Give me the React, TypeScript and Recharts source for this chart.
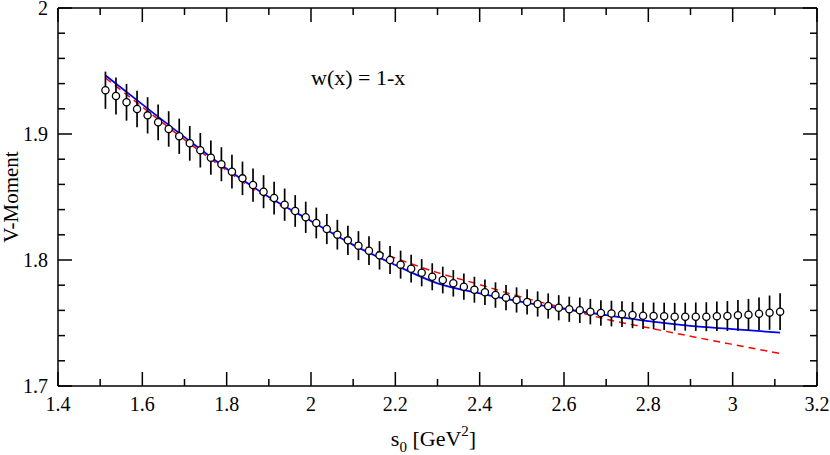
import React from 'react';
import { ComposedChart, Line, Scatter, XAxis, YAxis, ErrorBar } from 'recharts';

// s0 values of the data points [GeV^2]
const sValues = [
  1.5125, 1.5375, 1.5625, 1.5875, 1.6125, 1.6375, 1.6625, 1.6875, 1.7125, 1.7375,
  1.7625, 1.7875, 1.8125, 1.8375, 1.8625, 1.8875, 1.9125, 1.9375, 1.9625, 1.9875,
  2.0125, 2.0375, 2.0625, 2.0875, 2.1125, 2.1375, 2.1625, 2.1875, 2.2125, 2.2375,
  2.2625, 2.2875, 2.3125, 2.3375, 2.3625, 2.3875, 2.4125, 2.4375, 2.4625, 2.4875,
  2.5125, 2.5375, 2.5625, 2.5875, 2.6125, 2.6375, 2.6625, 2.6875, 2.7125, 2.7375,
  2.7625, 2.7875, 2.8125, 2.8375, 2.8625, 2.8875, 2.9125, 2.9375, 2.9625, 2.9875,
  3.0125, 3.0375, 3.0625, 3.0875, 3.1125,
];

// V-moment data values
const moment = [
  1.9347, 1.9302, 1.9252, 1.9198, 1.9148, 1.9093, 1.9040, 1.8982, 1.8926, 1.8871,
  1.8812, 1.8760, 1.8701, 1.8648, 1.8595, 1.8542, 1.8492, 1.8439, 1.8389, 1.8339,
  1.8294, 1.8246, 1.8201, 1.8156, 1.8114, 1.8074, 1.8037, 1.8000, 1.7963, 1.7931,
  1.7899, 1.7867, 1.7841, 1.7815, 1.7788, 1.7764, 1.7744, 1.7722, 1.7701, 1.7683,
  1.7667, 1.7651, 1.7635, 1.7621, 1.7609, 1.7601, 1.7590, 1.7579, 1.7575, 1.7570,
  1.7563, 1.7558, 1.7556, 1.7553, 1.7550, 1.7550, 1.7550, 1.7550, 1.7553, 1.7556,
  1.7561, 1.7566, 1.7574, 1.7582, 1.7590,
];

// symmetric errors
const momentErr = [
  0.0148, 0.0147, 0.0146, 0.0145, 0.0144, 0.0142, 0.0141, 0.0140, 0.0138, 0.0137,
  0.0136, 0.0135, 0.0134, 0.0133, 0.0132, 0.0131, 0.0130, 0.0128, 0.0126, 0.0124,
  0.0122, 0.0120, 0.0118, 0.0116, 0.0115, 0.0114, 0.0113, 0.0112, 0.0111, 0.0110,
  0.0108, 0.0107, 0.0106, 0.0105, 0.0104, 0.0103, 0.0102, 0.0101, 0.0100, 0.0100,
  0.0100, 0.0100, 0.0100, 0.0100, 0.0100, 0.0101, 0.0101, 0.0101, 0.0102, 0.0102,
  0.0104, 0.0105, 0.0106, 0.0108, 0.0110, 0.0111, 0.0113, 0.0115, 0.0117, 0.0119,
  0.0122, 0.0125, 0.0129, 0.0136, 0.0146,
];

// theory curves
const theoryS = [1.5125, 1.6, 1.7, 1.8, 1.9, 2.0, 2.1, 2.2, 2.3, 2.4, 2.5, 2.6, 2.7, 2.8, 2.9, 3.0, 3.1125];
const blueFit = [1.9465, 1.9235, 1.8975, 1.8725, 1.8500, 1.8310, 1.8120, 1.7960, 1.7815, 1.7735, 1.7668, 1.7612, 1.7562, 1.7515, 1.7478, 1.7452, 1.7423];
const redFit = [1.9445, 1.9215, 1.8955, 1.8710, 1.8485, 1.8305, 1.8145, 1.8015, 1.7900, 1.7805, 1.7705, 1.7618, 1.7530, 1.7462, 1.7395, 1.7330, 1.7258];

const xMajorTicks = [1.4, 1.6, 1.8, 2, 2.2, 2.4, 2.6, 2.8, 3, 3.2];
const xMinorTicks = [1.5, 1.7, 1.9, 2.1, 2.3, 2.5, 2.7, 2.9, 3.1];
const yMajorTicks = [1.7, 1.8, 1.9, 2];
const yMinorTicks = [1.72, 1.74, 1.76, 1.78, 1.82, 1.84, 1.86, 1.88, 1.92, 1.94, 1.96, 1.98];

const points = sValues.map((s, i) => ({ s, v: moment[i], err: momentErr[i] }));
const blueData = theoryS.map((s, i) => ({ s, v: blueFit[i] }));
const redData = theoryS.map((s, i) => ({ s, v: redFit[i] }));

const FONT = 'Liberation Serif';
const MAJOR = 14;
const MINOR = 7;
const TICK_W = 1.5;
const INK = '#000';

const isMajor = (v: number, majors: number[]) => majors.some((m) => Math.abs(m - v) < 1e-9);

const bottomTick = (props: any) => {
  const { x, y, payload } = props;
  const major = isMajor(payload.value, xMajorTicks);
  return (
    <g>
      <path d={`M${x},${y}V${y - (major ? MAJOR : MINOR)}`} stroke={INK} strokeWidth={TICK_W} fill="none" />
      {major ? (
        <text x={x} y={y + 25} textAnchor="middle" style={{ fontFamily: FONT, fontSize: 20 }} fill={INK}>
          {String(payload.value)}
        </text>
      ) : null}
    </g>
  );
};

const topTick = (props: any) => {
  const { x, y, payload } = props;
  const major = isMajor(payload.value, xMajorTicks);
  return <path d={`M${x},${y}V${y + (major ? MAJOR : MINOR)}`} stroke={INK} strokeWidth={TICK_W} fill="none" />;
};

const leftTick = (props: any) => {
  const { x, y, payload } = props;
  const major = isMajor(payload.value, yMajorTicks);
  return (
    <g>
      <path d={`M${x},${y}H${x + (major ? MAJOR : MINOR)}`} stroke={INK} strokeWidth={TICK_W} fill="none" />
      {major ? (
        <text x={x - 10} y={y + 7} textAnchor="end" style={{ fontFamily: FONT, fontSize: 20 }} fill={INK}>
          {String(payload.value)}
        </text>
      ) : null}
    </g>
  );
};

const rightTick = (props: any) => {
  const { x, y, payload } = props;
  const major = isMajor(payload.value, yMajorTicks);
  return <path d={`M${x},${y}H${x - (major ? MAJOR : MINOR)}`} stroke={INK} strokeWidth={TICK_W} fill="none" />;
};

function XTitle(props: any) {
  const vb = props.viewBox || { x: 58, y: 386, width: 759 };
  const cx = vb.x + vb.width / 2 - 4;
  return (
    <text x={cx} y={vb.y + 60} textAnchor="middle" style={{ fontFamily: FONT, fontSize: 22 }} fill={INK}>
      <tspan>s</tspan>
      <tspan style={{ fontSize: 15 }} dy={6}>0</tspan>
      <tspan dy={-6}> [GeV</tspan>
      <tspan style={{ fontSize: 15 }} dy={-10}>2</tspan>
      <tspan dy={10}>]</tspan>
    </text>
  );
}

function YTitle(props: any) {
  const vb = props.viewBox || { x: 0, y: 8, width: 58, height: 378 };
  const cy = vb.y + vb.height / 2;
  const cx = 18;
  return (
    <text
      x={cx}
      y={cy}
      transform={`rotate(-90 ${cx} ${cy})`}
      textAnchor="middle"
      style={{ fontFamily: FONT, fontSize: 21 }}
      fill={INK}
    >
      V-Moment
    </text>
  );
}

const axisLine = { stroke: INK, strokeWidth: 1.5 };

export default function App() {
  return (
    <div style={{ position: 'relative', width: 830, height: 455, background: '#fff' }}>
      <style>{`body{margin:0;background:#fff}`}</style>
      <ComposedChart width={830} height={455} margin={{ top: 7, right: 12, bottom: 0, left: 0 }}>
        <XAxis
          xAxisId="b"
          dataKey="s"
          type="number"
          domain={[1.4, 3.2]}
          ticks={[...xMajorTicks, ...xMinorTicks]}
          interval={0}
          tick={bottomTick}
          tickLine={false}
          tickSize={0}
          tickMargin={0}
          height={69}
          axisLine={axisLine}
          allowDataOverflow
          label={<XTitle />}
        />
        <XAxis
          xAxisId="t"
          orientation="top"
          dataKey="s"
          type="number"
          domain={[1.4, 3.2]}
          ticks={[...xMajorTicks, ...xMinorTicks]}
          interval={0}
          tick={topTick}
          tickLine={false}
          tickSize={0}
          tickMargin={0}
          height={1}
          axisLine={axisLine}
          allowDataOverflow
        />
        <YAxis
          yAxisId="l"
          dataKey="v"
          type="number"
          domain={[1.7, 2]}
          ticks={[...yMajorTicks, ...yMinorTicks]}
          interval={0}
          tick={leftTick}
          tickLine={false}
          tickSize={0}
          tickMargin={0}
          width={58}
          axisLine={axisLine}
          allowDataOverflow
          label={<YTitle />}
        />
        <YAxis
          yAxisId="r"
          orientation="right"
          dataKey="v"
          type="number"
          domain={[1.7, 2]}
          ticks={[...yMajorTicks, ...yMinorTicks]}
          interval={0}
          tick={rightTick}
          tickLine={false}
          tickSize={0}
          tickMargin={0}
          width={1}
          axisLine={axisLine}
          allowDataOverflow
        />
        <Line
          xAxisId="b"
          yAxisId="l"
          data={redData}
          dataKey="v"
          type="monotone"
          stroke="#ff0000"
          strokeWidth={1.5}
          strokeDasharray="7 5"
          dot={false}
          activeDot={false}
          isAnimationActive={false}
        />
        <Line
          xAxisId="b"
          yAxisId="l"
          data={blueData}
          dataKey="v"
          type="monotone"
          stroke="#0000ff"
          strokeWidth={1.8}
          dot={false}
          activeDot={false}
          isAnimationActive={false}
        />
        <Line
          xAxisId="t"
          yAxisId="r"
          data={blueData}
          dataKey="v"
          stroke="none"
          dot={false}
          activeDot={false}
          isAnimationActive={false}
        />
        <Scatter
          xAxisId="b"
          yAxisId="l"
          data={points}
          dataKey="v"
          isAnimationActive={false}
          shape={(p: any) => (
            <circle cx={p.cx} cy={p.cy} r={3.6} fill="#fff" stroke={INK} strokeWidth={1.3} />
          )}
        >
          <ErrorBar dataKey="err" direction="y" width={0} stroke={INK} strokeWidth={1.7} isAnimationActive={false} />
        </Scatter>
      </ComposedChart>
      <div
        style={{
          position: 'absolute',
          left: 311,
          top: 67,
          fontFamily: FONT,
          fontSize: 22,
          lineHeight: '22px',
          color: INK,
          whiteSpace: 'nowrap',
        }}
      >
        w(x) = 1-x
      </div>
    </div>
  );
}
